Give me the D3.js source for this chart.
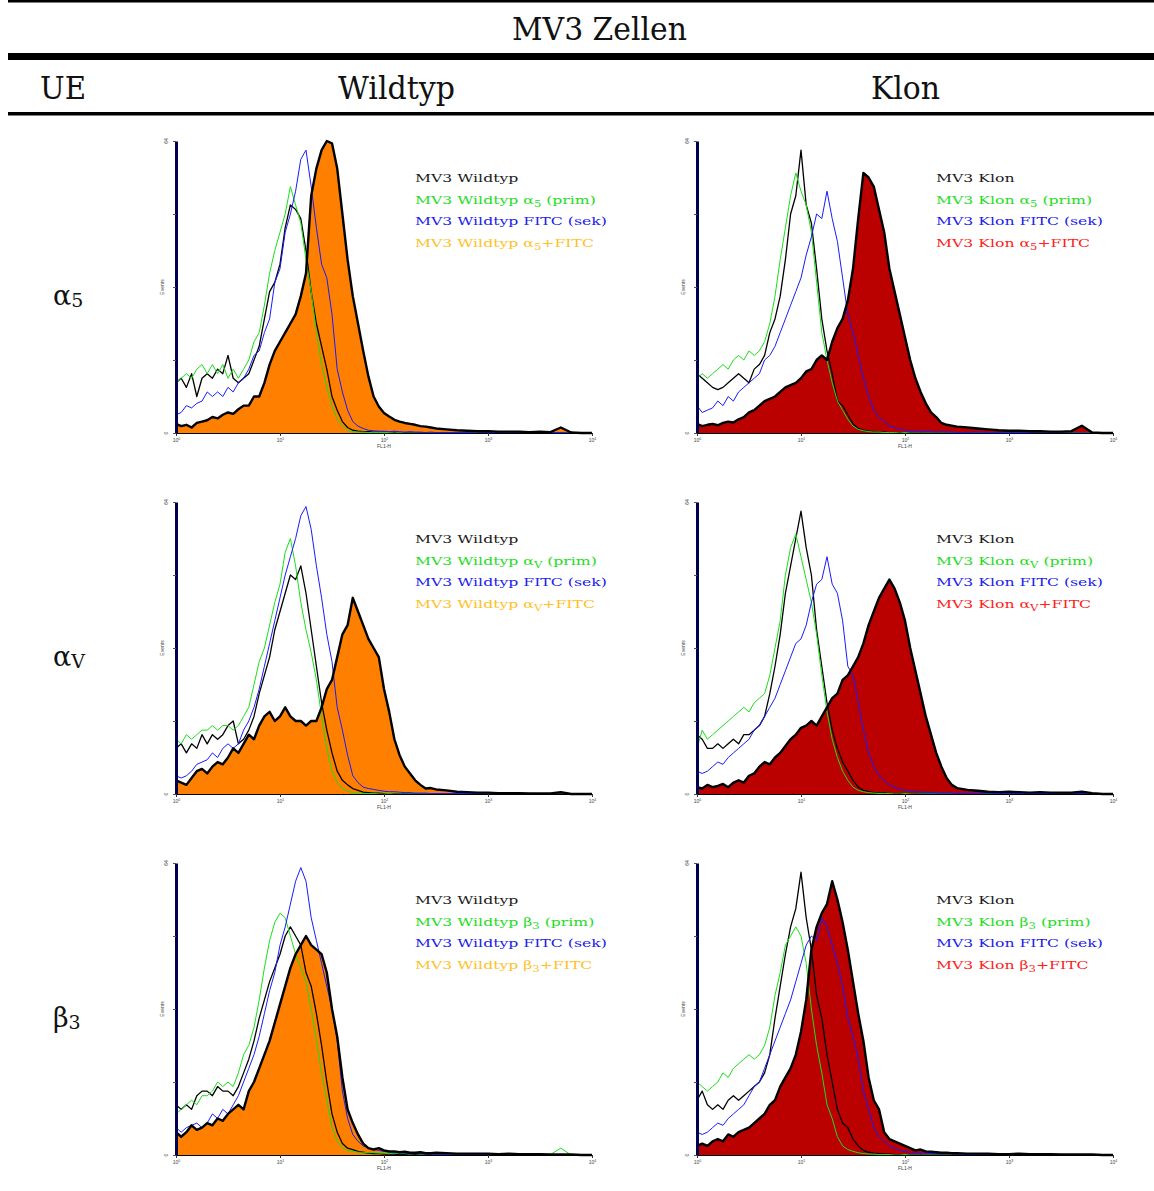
<!DOCTYPE html>
<html>
<head>
<meta charset="utf-8">
<script src="https://cdn.jsdelivr.net/npm/d3@7"></script>
<style>
  body { margin: 0; background: #fff; }
  svg { display: block; }
</style>
</head>
<body>
<svg id="fig" width="1154" height="1191"></svg>
<script>
// FL1-H channel positions, in decades (10^0 … 10^4)
const decades = [
  0, 0.05, 0.1, 0.15, 0.2, 0.25, 0.3, 0.35, 0.4, 0.45,
  0.5, 0.55, 0.6, 0.65, 0.7, 0.75, 0.8, 0.85, 0.9, 0.95,
  1.0, 1.05, 1.1, 1.15, 1.2, 1.25, 1.3, 1.35, 1.4, 1.45,
  1.5, 1.55, 1.6, 1.65, 1.7, 1.75, 1.8, 1.85, 1.9, 1.95,
  2.0, 2.05, 2.1, 2.15, 2.2, 2.25, 2.3, 2.35, 2.4, 2.45, 2.5,
  2.6, 2.7, 2.8, 2.9, 3.0, 3.1, 3.2, 3.3, 3.4, 3.5, 3.6, 3.7, 3.8, 3.9, 4.0
];
const xTicks = [1, 10, 100, 1000, 10000];
const xTickExp = ["0", "1", "2", "3", "4"];
const yMax = 64;
const yTicks = [0, 16, 32, 48, 64];

const columns = ["Wildtyp", "Klon"];
const receptors = [["α", "5"], ["α", "V"], ["β", "3"]];

// ---- Wildtyp, alpha5 ----
const wtA5_unst = [11,12,10,13,8,12,13,12,14,13, 17,12,11,12,13,16,19,25,31,33, 37,45,50,49,47,40,31,24,19,14, 8,5,2.5,1.2,0.6,0.4,0.3,0.3,0.2,0.2, 0.2,0.1,0.2,0.1,0.1,0.1,0,0.1,0,0,0, 0,0,0,0,0,0,0,0,0,0,0,0,0,0,0];
const wtA5_prim = [11,12,13,12,14,15,13,15,13,15, 12,14,12,14,16,20,22,28,35,40, 44,48,54,50,46,38,31,22,15,10, 6,3,1.5,0.6,0.3,0.2,0.2,0.1,0.1,0.1, 0.1,0.1,0,0.1,0,0,0,0,0,0,0, 0,0,0,0,0,0,0,0,0,0,0,0,0,0,0];
const wtA5_sek  = [4,4.5,6,5.5,6.5,7,9,8,9,8, 10,9,11,12,14,17,18,22,25,33, 36,44,48,53,60,62,54,45,37,34, 26,14,9,5,2.5,1.5,1,0.6,0.5,0.4, 0.4,0.3,0.4,0.3,0.2,0.3,0.2,0.2,0.1,0.2,0.1, 0.1,0.1,0.1,0.2,0.1,0.1,0.2,0.1,0.1,0.1,0.1,0.1,0,0,0];
const wtA5_fitc = [2,1.5,1.8,1.2,2.2,2.5,2.8,3.5,3.2,4, 4.5,4.2,5.2,6,6,8,8,11,15,18, 20,22,24,26,30,35,52,58,62,64, 63.5,58,48,38,30,24,18,12.4,8,5.8, 4.4,3.6,2.9,2.5,2.2,2,1.8,1.5,1.4,1.2,1, 0.8,0.6,0.5,0.4,0.4,0.3,0.3,0.3,0.2,0.3,0.2,1.2,0.1,0,0];

// ---- Klon, alpha5 ----
const klA5_unst = [13,12,11,10,9.5,10,11,12,13,12, 11,14,15,17,22,25,30,38,48,52, 62,50,46,36,25,18,13,7,6,4, 2,1,0.6,0.4,0.3,0.2,0.2,0.1,0.1,0.1, 0.1,0.1,0,0.1,0,0,0,0,0,0,0, 0,0,0,0,0,0,0,0,0,0,0,0,0,0,0];
const klA5_prim = [12,13,12,13,14,15,14,16,17,16, 18,17,18,20,24,30,38,45,52,57, 53,50,44,33,22,16,11,7,5,3, 1.5,0.8,0.5,0.3,0.2,0.2,0.1,0.1,0.1,0, 0.1,0,0,0,0,0,0,0,0,0,0, 0,0,0,0,0,0,0,0,0,0,0,0,0,0,0];
const klA5_sek  = [6,4.5,5,5.5,7,6,8,7,9,10, 11,12,13,16,17,19,22,25,28,31, 34,39,43,48,47,53,47,42,34,26, 22,17,12,8,5,3.5,2.5,1.5,1.2,0.8, 0.6,0.5,0.4,0.4,0.3,0.3,0.2,0.3,0.2,0.2,0.1, 0.1,0.2,0.1,0.1,0.1,0.1,0.1,0,0.1,0,0,0,0,0,0];
const klA5_fitc = [2,1.5,1.8,2,1.7,2.2,2.5,2.3,3,3.5, 4.5,5,6,7,7.5,8,9,10,10.5,11, 12,13.5,14,16,17,16,20,23,25,29, 36,47,57,56,54,49,44,36,31,26, 21,16,12,9,6.5,4.5,3.5,2.2,1.8,1.6,1.4, 1.2,1,0.8,0.6,0.5,0.5,0.4,0.4,0.3,0.3,0.4,1.6,0.1,0,0];

// ---- Wildtyp, alphaV ----
const wtAV_unst = [10,11,9,11,10,13,11,13,12,13, 15,16,11,12,14,17,22,26,30,36, 40,44,48,47,50,44,36,28,20,14, 9,5,3,2,1.2,0.8,0.4,0.3,0.2,0.2, 0.1,0.1,0.1,0,0.1,0,0,0,0,0,0, 0,0,0,0,0,0,0,0,0,0,0,0,0,0,0];
const wtAV_prim = [12,11,13,12,13,14,14,15,14,15, 15,14,15,17,19,24,29,32,37,42, 46,53,56,50,42,36,31,25,17,10, 5,2.5,1.2,0.6,0.3,0.2,0.1,0.1,0.1,0, 0,0.1,0,0,0,0,0,0,0,0,0, 0,0,0,0,0,0,0,0,0,0,0,0,0,0,0];
const wtAV_sek  = [4,3.5,4,5,6.5,7,7.5,9,8,10, 11,10,11,14,16,19,23,28,33,38, 43,48,52,56,61,63,58,50,43,35, 29,19,14,8.5,4,2.5,1.5,1.2,1,0.8, 0.6,0.5,0.5,0.4,0.3,0.3,0.2,0.2,0.2,0.1,0.1, 0.1,0.1,0.1,0.1,0,0.1,0,0,0,0,0,0,0,0,0];
const wtAV_fitc = [3,2.5,2,3.5,5,5.5,4.5,6,7,6.5, 8,10,9,11,13,12,15,17,18,16, 17,19,17,16,16,15,16,16,19,23, 25,30,35,37,43,40,37,34,32,30, 23,18,12,8.5,6,4.5,3,2,1.2,1.3,1, 0.8,0.5,0.4,0.3,0.3,0.2,0.2,0.2,0.1,0.1,0.1,0.4,0,0,0];

// ---- Klon, alphaV ----
const klAV_unst = [13,12,10,10,11,10,11,12,11,13, 13,14,15,17,22,28,35,44,50,56, 62,54,48,36,28,20,14,10,7,5, 3,1.5,0.8,0.5,0.3,0.2,0.2,0.1,0.1,0.1, 0.1,0,0.1,0,0,0,0,0,0,0,0, 0,0,0,0,0,0,0,0,0,0,0,0,0,0,0];
const klAV_prim = [10,14,12,13,14,15,16,17,18,19, 18,20,21,22,26,32,38,48,54,57, 52,47,42,35,26,18,12,8,5,3, 1.5,0.8,0.5,0.3,0.2,0.1,0.1,0.1,0,0, 0.1,0,0,0,0,0,0,0,0,0,0, 0,0,0,0,0,0,0,0,0,0,0,0,0,0,0];
const klAV_sek  = [5,4.5,5,6,7,6.5,8,9,10,11, 12,14,15,17,19,21,24,27,30,33, 34,37,42,46,47,52,46,44,38,28, 26,20,14,9,6,4,3,2,1.5,1, 0.8,0.6,0.5,0.4,0.4,0.3,0.3,0.2,0.2,0.2,0.1, 0.1,0.1,0.2,0.1,0.1,0.1,0.1,0.1,0.1,0.2,0.1,0.1,0,0,0];
const klAV_fitc = [1.5,1.2,2,1.5,1.8,2.2,1.5,2.5,3,2.5, 4,4.5,6,7,6.5,8,9,10.5,12,13, 14.5,15,16,15,17,19,21,22,25,26, 28,30,33,37,40,43,45,47,45,42, 38,32,27,22,17,13,9,6,3.5,2,1.3, 0.9,0.7,0.5,0.4,0.5,0.4,0.3,0.4,0.3,0.3,0.3,0.5,0.2,0,0];

// ---- Wildtyp, beta3 ----
const wtB3_unst = [11,10,11,10,13,14,14,13,15,14, 14,13,15,18,21,25,30,34,38,41, 44,48,50,48,46,40,37,31,24,16, 9,5,2.5,1.5,1.2,0.8,0.6,0.4,0.3,0.3, 0.2,0.2,0.2,0.1,0.1,0.1,0.1,0,0.1,0,0, 0,0,0,0,0,0,0,0,0,0,0,0,0,0,0];
const wtB3_prim = [9,10,11,12,11,13,13,14,16,15, 16,15,18,22,24,28,34,41,47,51, 53,52,48,44,41,38,32,25,18,12, 6,3,1.5,1,0.8,0.6,0.6,0.5,0.5,0.4, 0.4,0.3,0.4,0.3,0.3,0.2,0.3,0.2,0.2,0.3,0.2, 0.2,0.2,0.1,0.2,0.1,0.1,0.2,0.1,0.1,0.1,0.1,1.5,0,0,0];
const wtB3_sek  = [6,5,6,6.5,7,6,7,9,8,10, 9,11,13,16,19,22,26,31,36,40, 46,50,55,60,63,60,52,47,42,37, 32,25,14,8,4.5,3,2,1.5,1.2,1, 0.8,0.6,0.5,0.5,0.4,0.3,0.3,0.3,0.2,0.2,0.2, 0.1,0.2,0.1,0.1,0.1,0.1,0.1,0,0.1,0,0,0,0,0,0];
const wtB3_fitc = [5,4,5,6.5,5.5,6,7,6.5,8,7.5, 9,10,11,10,14,16,19,22,25,29, 33,37,41,44,46,48,46,45,44,40, 32,26,17,10,7,4.5,2.5,1.5,1.2,1.5, 1,0.8,0.8,0.6,0.7,0.5,0.5,0.6,0.4,0.4,0.5, 0.4,0.3,0.3,0.3,0.3,0.2,0.3,0.2,0.2,0.2,0.1,0.1,0.1,0,0];

// ---- Klon, beta3 ----
const klB3_unst = [12,14,11,10,11,10,12,13,12,13, 14,15,16,18,22,30,37,44,50,54, 62,52,45,35,30,22,16,10,7,6, 3.5,2,1,0.6,0.4,0.3,0.2,0.2,0.1,0.1, 0.1,0.1,0,0.1,0,0,0,0,0,0,0, 0,0,0,0,0,0,0,0,0,0,0,0,0,0,0];
const klB3_prim = [16,15,14,15,16,18,17,19,20,21, 22,21,22,24,28,35,40,46,48,50, 48,42,32,24,18,11,8,4,2,1.2, 0.8,0.5,0.3,0.2,0.2,0.1,0.1,0.1,0,0, 0.1,0,0,0,0,0,0,0,0,0,0, 0,0,0,0,0,0,0,0,0,0,0,0,0,0,0];
const klB3_sek  = [5,4.5,5,6,7,6.5,8,9,10,11, 13,15,16,19,22,25,28,31,34,38, 42,46,48,47,52,50,46,42,37,30, 26,21,14,10,6,4,3,2,1.5,1, 0.8,0.6,0.5,0.5,0.4,0.3,0.3,0.2,0.3,0.2,0.2, 0.1,0.1,0.1,0.2,0.1,0.1,0.1,0.1,0,0.1,0,0.1,0,0,0];
const klB3_fitc = [2,2.5,2,3,3.5,3,4.5,4,5,5.5, 6,7,8,9,11,12,15,17,19,22, 27,34,45,50,53,55,60,56,51,45, 38,31,25,17,12,10,5,3.5,3,2.5, 2,1.5,1,1.2,0.8,0.7,0.6,0.5,0.5,0.4,0.4, 0.3,0.3,0.3,0.2,0.2,0.3,0.2,0.2,0.2,0.1,0.1,0.1,0.1,0,0];

// Panels: one row per receptor subunit, one column per cell line
const panels = [
  { row: 0, col: 0, unst: wtA5_unst, prim: wtA5_prim, sek: wtA5_sek, fitc: wtA5_fitc },
  { row: 0, col: 1, unst: klA5_unst, prim: klA5_prim, sek: klA5_sek, fitc: klA5_fitc },
  { row: 1, col: 0, unst: wtAV_unst, prim: wtAV_prim, sek: wtAV_sek, fitc: wtAV_fitc },
  { row: 1, col: 1, unst: klAV_unst, prim: klAV_prim, sek: klAV_sek, fitc: klAV_fitc },
  { row: 2, col: 0, unst: wtB3_unst, prim: wtB3_prim, sek: wtB3_sek, fitc: wtB3_fitc },
  { row: 2, col: 1, unst: klB3_unst, prim: klB3_prim, sek: klB3_sek, fitc: klB3_fitc }
];

// ---- layout & style ----
const panelLeft = [176, 697];
const panelTop = [141, 502, 863];
const PW = 416, PH = 292;
const fillColor = ["#ff8000", "#bb0000"];
const legendStainColor = ["#ffc125", "#ff2020"];
const serif = "'DejaVu Serif', serif";
const sans = "'Liberation Sans', Arial, sans-serif";

const svg = d3.select("#fig");

// ---- table header ----
svg.append("rect").attr("x", 8).attr("y", 0).attr("width", 1146).attr("height", 2.5).attr("fill", "#000");
svg.append("rect").attr("x", 8).attr("y", 53).attr("width", 1146).attr("height", 7).attr("fill", "#000");
svg.append("rect").attr("x", 8).attr("y", 112).attr("width", 1146).attr("height", 3.5).attr("fill", "#000");

function headText(txt, x, y, len) {
  svg.append("text")
    .attr("x", x).attr("y", y)
    .attr("textLength", len).attr("lengthAdjust", "spacingAndGlyphs")
    .style("font-family", serif).style("font-stretch", "condensed")
    .style("font-size", "31px").attr("fill", "#111")
    .text(txt);
}
headText("MV3 Zellen", 512, 40, 175);
headText("UE", 40, 99, 46);
headText(columns[0], 338, 99, 117);
headText(columns[1], 871, 99, 69);

// ---- row labels ----
receptors.forEach((r, i) => {
  const t = svg.append("text")
    .attr("x", 53).attr("y", panelTop[i] + 164)
    .style("font-family", serif).style("font-size", "27px").attr("fill", "#111");
  t.append("tspan").text(r[0]);
  t.append("tspan").attr("dy", 2).style("font-size", "19px").text(r[1]);
});

// ---- scales ----
const x = d3.scaleLog().domain([1, 10000]).range([0, PW]);
const y = d3.scaleLinear().domain([0, yMax]).range([PH, 0]);

const lineGen = d3.line()
  .x((d, i) => x(Math.pow(10, decades[i])))
  .y(d => y(d));
const areaGen = d3.area()
  .x((d, i) => x(Math.pow(10, decades[i])))
  .y0(PH)
  .y1(d => y(d));

// horizontal stretch of the wide legend typeface
let legendScale = 1;
{
  const probe = svg.append("text").style("font-family", serif).style("font-size", "11.5px")
    .text("MV3 Wildtyp FITC (sek)");
  const w = probe.node().getComputedTextLength();
  legendScale = 192 / w;
  probe.remove();
}

panels.forEach(p => {
  const g = svg.append("g").attr("transform", `translate(${panelLeft[p.col]},${panelTop[p.row]})`);

  // stained sample, filled
  g.append("path").datum(p.fitc).attr("d", areaGen).attr("fill", fillColor[p.col]);

  // controls
  g.append("path").datum(p.unst).attr("d", lineGen)
    .attr("fill", "none").attr("stroke", "#000").attr("stroke-width", 1.3).attr("stroke-linejoin", "round");
  g.append("path").datum(p.prim).attr("d", lineGen)
    .attr("fill", "none").attr("stroke", "#19e019").attr("stroke-width", 1).attr("stroke-linejoin", "round");
  g.append("path").datum(p.sek).attr("d", lineGen)
    .attr("fill", "none").attr("stroke", "#1a1aff").attr("stroke-width", 1).attr("stroke-linejoin", "round");

  // outline of stained sample
  g.append("path").datum(p.fitc).attr("d", lineGen)
    .attr("fill", "none").attr("stroke", "#000").attr("stroke-width", 2.4).attr("stroke-linejoin", "round");

  // x axis
  const xa = g.append("g").attr("transform", `translate(0,${PH})`)
    .call(d3.axisBottom(x).tickValues(xTicks).tickSize(3).tickSizeOuter(0).tickFormat(() => ""));
  xa.select(".domain").attr("stroke", "#000").attr("stroke-width", 1.2);
  xa.selectAll(".tick line").attr("stroke", "#333");
  xa.selectAll(".tick").each(function (d, i) {
    const t = d3.select(this).append("text")
      .attr("y", 9).attr("fill", "#444").attr("text-anchor", "middle")
      .style("font-family", sans).style("font-size", "5px");
    t.append("tspan").text("10");
    t.append("tspan").attr("dy", -2).style("font-size", "3.5px").text(xTickExp[i]);
  });
  g.append("text").attr("x", x(100)).attr("y", PH + 15).attr("text-anchor", "middle")
    .attr("fill", "#444").style("font-family", sans).style("font-size", "5px").text("FL1-H");

  // y axis
  const ya = g.append("g").call(d3.axisLeft(y).tickValues(yTicks).tickSize(3).tickSizeOuter(0).tickFormat(() => ""));
  ya.select(".domain").attr("stroke", "#000050").attr("stroke-width", 3);
  ya.selectAll(".tick line").attr("stroke", "#555");
  [[0, "0"], [yMax, "64"]].forEach(([v, s]) => {
    g.append("text").attr("transform", `translate(-8,${y(v)}) rotate(-90)`)
      .attr("text-anchor", "middle").attr("fill", "#444")
      .style("font-family", sans).style("font-size", "5px").text(s);
  });
  g.append("text").attr("transform", `translate(-12,${PH / 2}) rotate(-90)`)
    .attr("text-anchor", "middle").attr("fill", "#444")
    .style("font-family", sans).style("font-size", "5px").text("Events");

  // legend
  const cell = p.col === 0 ? "MV3 Wildtyp" : "MV3 Klon";
  const [sym, sub] = receptors[p.row];
  const entries = [
    { parts: [[cell]], color: "#1a1a1a" },
    { parts: [[cell + " " + sym], [sub, true], [" (prim)"]], color: "#22dd22" },
    { parts: [[cell + " FITC (sek)"]], color: "#2020ee" },
    { parts: [[cell + " " + sym], [sub, true], ["+FITC"]], color: legendStainColor[p.col] }
  ];
  const lg = g.append("g").attr("transform", `translate(${(p.col === 0 ? 415 : 936) - panelLeft[p.col]},0) scale(${legendScale},1)`);
  const rowY = [44, 66, 87, 109];
  entries.forEach((e, k) => {
    const t = lg.append("text").attr("x", 0).attr("y", rowY[k])
      .attr("fill", e.color).style("font-family", serif).style("font-size", "11.5px");
    e.parts.forEach(([s, isSub]) => {
      if (isSub) t.append("tspan").attr("dy", 2.5).style("font-size", "8.5px").text(s);
      else t.append("tspan").attr("dy", t.selectAll("tspan").size() ? -2.5 : 0).text(s);
    });
  });
});
</script>
</body>
</html>
